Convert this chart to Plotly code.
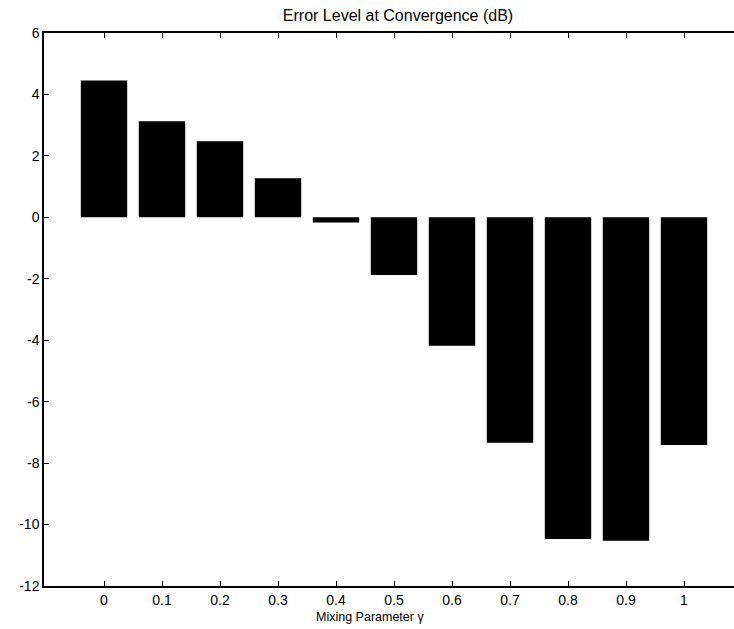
import plotly.graph_objects as go

gamma = [0.0, 0.1, 0.2, 0.3, 0.4, 0.5, 0.6, 0.7, 0.8, 0.9, 1.0]
error_db = [4.45, 3.13, 2.48, 1.27, -0.17, -1.88, -4.18, -7.34, -10.47, -10.53, -7.41]
x_tick_labels = ["0", "0.1", "0.2", "0.3", "0.4", "0.5", "0.6", "0.7", "0.8", "0.9", "1"]
y_tick_vals = [6, 4, 2, 0, -2, -4, -6, -8, -10, -12]
y_tick_labels = ["6", "4", "2", "0", "-2", "-4", "-6", "-8", "-10", "-12"]

W, H = 734, 629
L, R, T, B = 44, 0, 33, 43
font = "Liberation Sans, Arial, Helvetica, sans-serif"

fig = go.Figure(go.Bar(
    x=gamma, y=error_db, width=0.08,
    marker=dict(color="black", line=dict(width=0)),
))

fig.update_layout(
    width=W, height=H,
    margin=dict(l=L, r=R, t=T, b=B, pad=0),
    paper_bgcolor="white", plot_bgcolor="white",
    showlegend=False,
    font=dict(family=font, color="black", size=14),
    title=dict(text="Error Level at Convergence (dB)", x=398 / W, xref="container",
               xanchor="center", y=1 - 15 / H, yref="container", yanchor="middle",
               font=dict(size=16, family=font, color="black")),
)

fig.update_xaxes(
    range=[-0.10345, 1.0862],
    tickvals=gamma, ticktext=x_tick_labels,
    ticks="inside", ticklen=5, tickcolor="black", tickwidth=1,
    showline=True, linecolor="black", linewidth=1.5, mirror="ticks",
    showgrid=False, zeroline=False,
    tickfont=dict(size=14, family=font, color="black"),
)
fig.update_yaxes(
    range=[-12, 6],
    tickvals=y_tick_vals, ticktext=y_tick_labels,
    ticks="inside", ticklen=5, tickcolor="black", tickwidth=1,
    showline=True, linecolor="black", linewidth=1.5, mirror=False,
    showgrid=False, zeroline=False,
    tickfont=dict(size=14, family=font, color="black"),
)

fig.add_annotation(
    text="Mixing Parameter γ", xref="paper", yref="paper",
    x=(369.5 - L) / (W - L - R), y=0, yshift=-31,
    xanchor="center", yanchor="middle", showarrow=False,
    font=dict(size=12.5, family=font, color="black"),
)

fig.write_html("out.html")
